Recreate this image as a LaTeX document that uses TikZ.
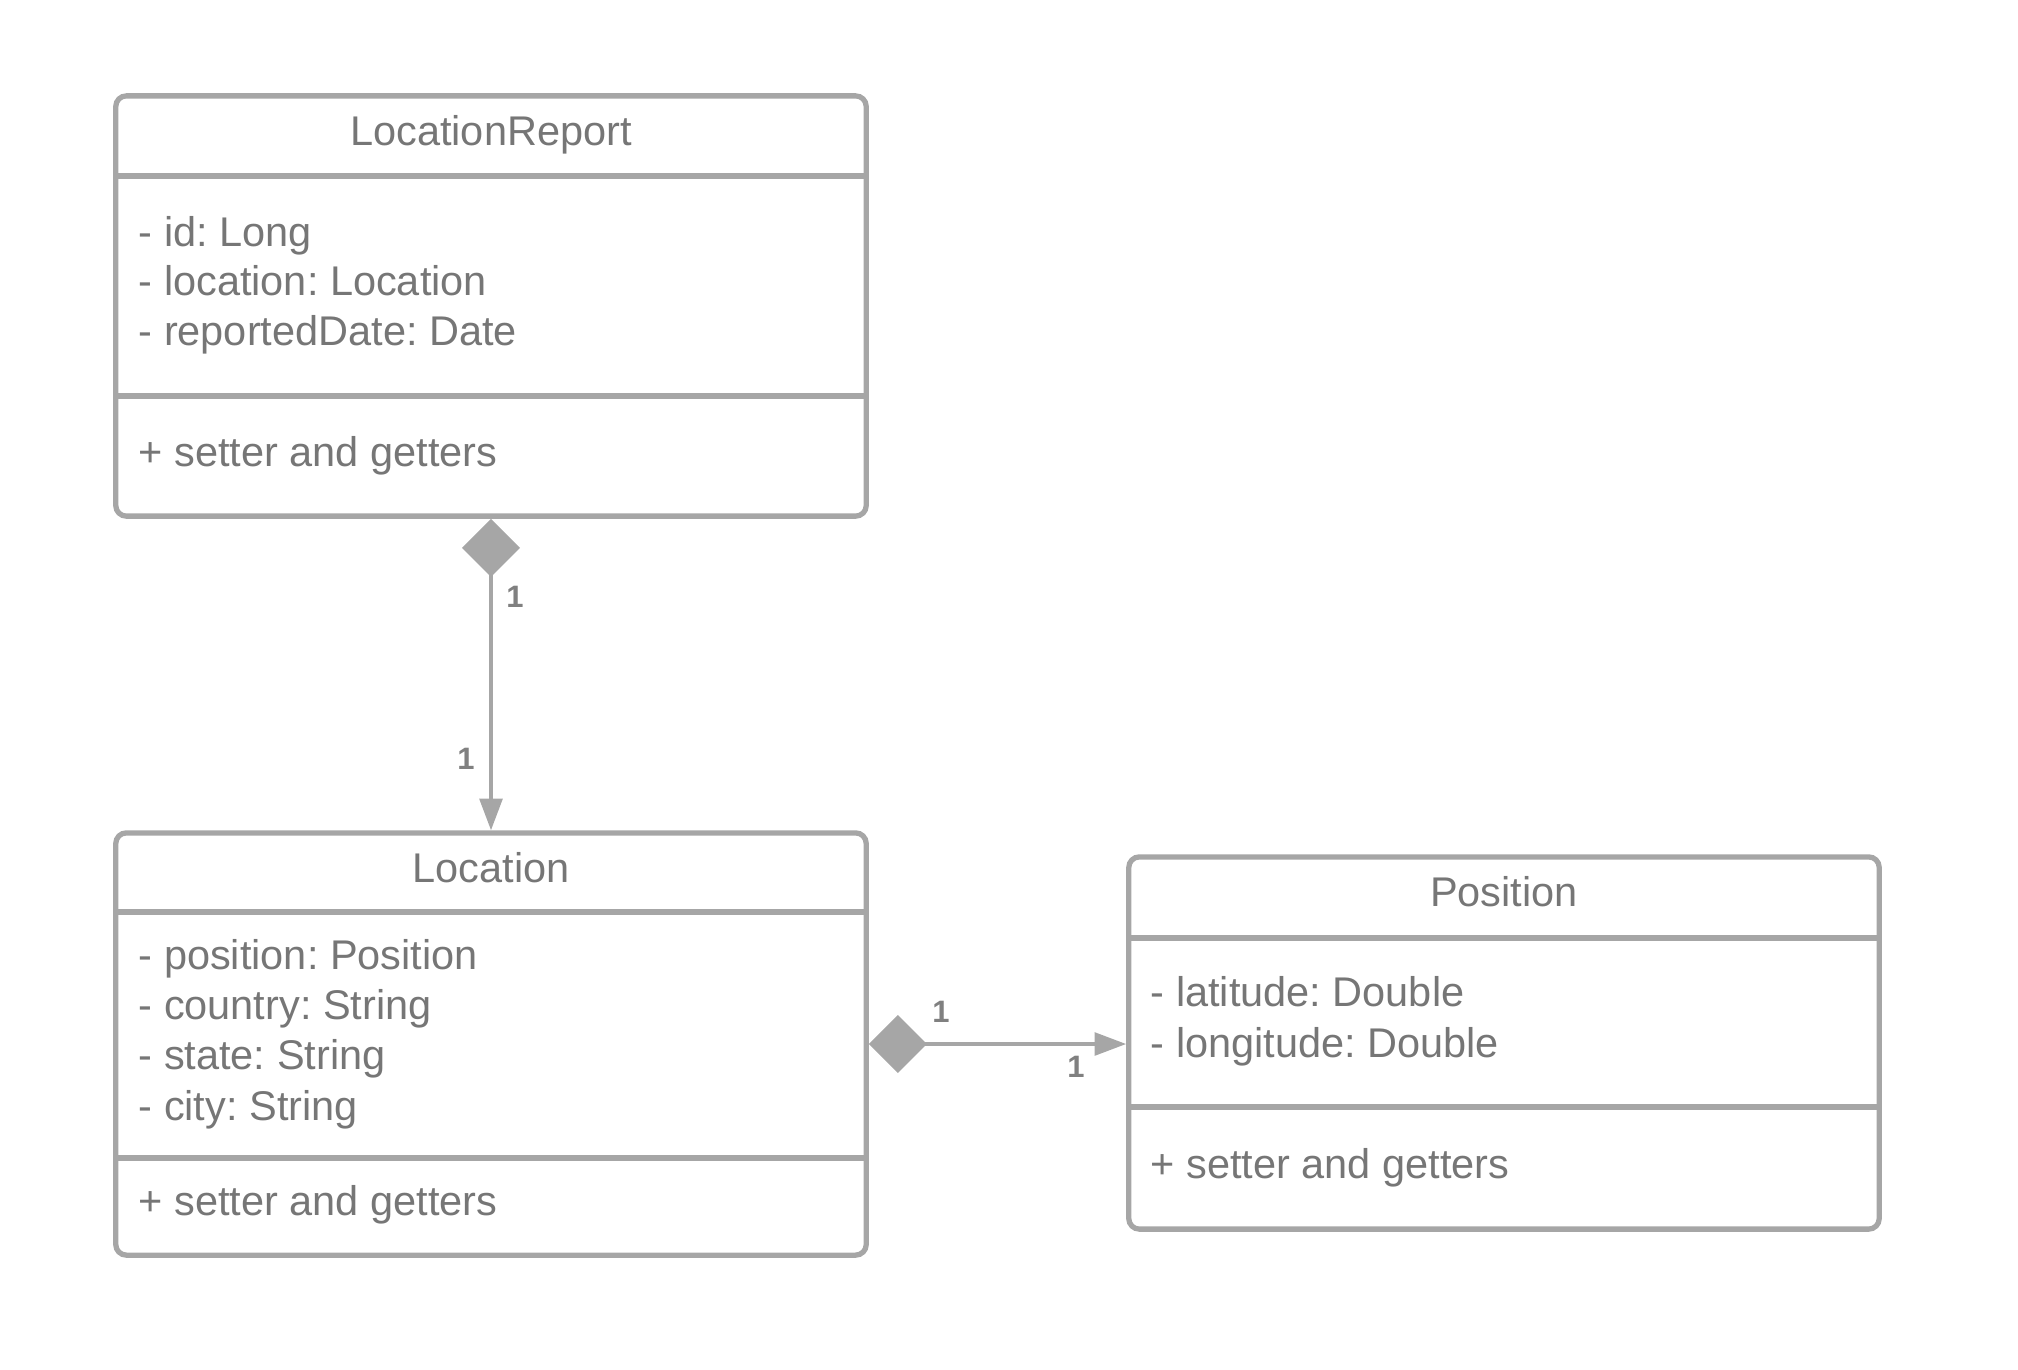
\documentclass[tikz,border=0pt]{standalone}
\usepackage{fontspec}
\setmainfont{Liberation Sans}
\frenchspacing
\usetikzlibrary{arrows.meta}
\definecolor{umlline}{HTML}{A6A6A6}
\definecolor{umltext}{HTML}{767676}
\definecolor{umlmult}{HTML}{808080}
\tikzset{
  classbox/.style={draw=umlline, line width=1.5pt, rounded corners=3pt,
    minimum width=7.5cm, inner sep=0pt},
  classline/.style={draw=umlline, line width=1.5pt},
  member/.style={anchor=base west, inner sep=0pt, text=umltext,
    font=\fontsize{11.8pt}{14pt}\selectfont},
  classtitle/.style={member, anchor=base},
  mult/.style={text=umlmult, inner sep=0pt,
    font=\bfseries\fontsize{8.8pt}{10pt}\selectfont},
  compose/.style={draw=umlline, line width=0.95pt,
    {Diamond[length=16.5pt,width=16.5pt]}-{Triangle[length=9pt,width=6.5pt]}}
}
\begin{document}
\begin{tikzpicture}[x=0.01cm, y=-0.01cm]
\useasboundingbox (0,0) rectangle (2018,1369);

% LocationReport
\node (lr) [classbox, minimum height=4.2cm] at (491,306) {};
\draw [classline] (lr.west |- 0,176) -- (lr.east |- 0,176);
\draw [classline] (lr.west |- 0,396) -- (lr.east |- 0,396);
\node (lr-t) [classtitle] at (491,145) {LocationReport};
\foreach \txt/\y [count=\i] in {- id: Long/246, - location: Location/295, - reportedDate: Date/345}
  \node (lr-a\i) [member] at (138,\y) {\txt};
\node (lr-m) [member] at (138,466) {+ setter and getters};

% Location
\node (loc) [classbox, minimum height=4.22cm] at (491,1044) {};
\draw [classline] (loc.west |- 0,912) -- (loc.east |- 0,912);
\draw [classline] (loc.west |- 0,1158) -- (loc.east |- 0,1158);
\node (loc-t) [classtitle] at (491,882) {Location};
\foreach \txt/\y [count=\i] in {- position: Position/969, - country: String/1019, - state: String/1069, - city: String/1120}
  \node (loc-a\i) [member] at (138,\y) {\txt};
\node (loc-m) [member] at (138,1215) {+ setter and getters};

% Position
\node (pos) [classbox, minimum height=3.72cm] at (1504,1043) {};
\draw [classline] (pos.west |- 0,938) -- (pos.east |- 0,938);
\draw [classline] (pos.west |- 0,1107) -- (pos.east |- 0,1107);
\node (pos-t) [classtitle] at (1504,906) {Position};
\foreach \txt/\y [count=\i] in {- latitude: Double/1006, - longitude: Double/1057}
  \node (pos-a\i) [member] at (1150,\y) {\txt};
\node (pos-m) [member] at (1150,1178) {+ setter and getters};

% compositions
\draw [compose] (lr.south) -- (loc.north);
\draw [compose] (loc.east) -- (loc.east -| pos.west);
\node (m1) [mult] at (515,597) {1};
\node (m2) [mult] at (466,759) {1};
\node (m3) [mult] at (941,1012) {1};
\node (m4) [mult] at (1076,1067) {1};
\end{tikzpicture}
\end{document}
